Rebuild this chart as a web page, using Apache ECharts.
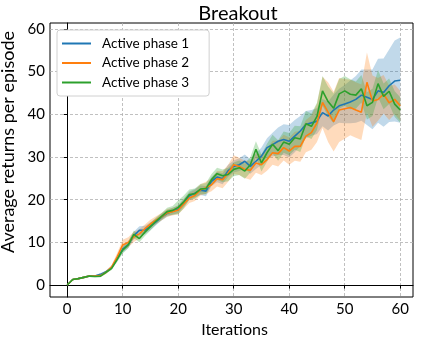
<!DOCTYPE html>
<html>
<head>
<meta charset="utf-8">
<script src="https://cdn.jsdelivr.net/npm/echarts@6/dist/echarts.min.js"></script>
<style>
  html, body { margin: 0; padding: 0; background: #fff; }
  #chart { width: 421px; height: 339px; }
</style>
</head>
<body>
<div id="chart"></div>
<script>
// iterations 0..60
const iterations = Array.from({ length: 61 }, (_, i) => i);
const xTicks = [0, 10, 20, 30, 40, 50, 60];
const yTicks = [0, 10, 20, 30, 40, 50, 60];

// mean returns per active phase
const phase1 = [0, 1.3, 1.5, 1.8, 2.1, 2.1, 2.5, 3.1, 4.1, 6.2,
  8.4, 9.5, 11.6, 12.8, 12.9, 13.8, 14.8, 15.9, 16.8, 17.3,
  17.8, 19.3, 20.9, 21.5, 22.2, 22.0, 24.3, 25.3, 24.9, 26.8,
  27.8, 28.2, 29.0, 27.8, 29.0, 30.2, 32.2, 32.9, 33.7, 34.1,
  33.7, 34.9, 36.1, 37.6, 38.0, 38.4, 40.4, 39.6, 41.0, 42.0,
  42.4, 42.9, 43.5, 44.5, 44.0, 43.5, 45.5, 45.1, 46.7, 47.8, 48.0];
const phase2 = [0, 1.3, 1.5, 1.8, 2.1, 2.1, 2.2, 3.0, 4.2, 6.6,
  9.4, 10.0, 11.3, 12.0, 13.2, 14.3, 15.2, 16.0, 16.9, 17.2,
  17.6, 19.0, 20.4, 21.0, 22.3, 22.8, 23.5, 24.9, 24.7, 26.2,
  28.2, 27.8, 27.1, 26.9, 28.6, 28.2, 29.4, 31.0, 30.8, 32.2,
  31.4, 32.5, 32.5, 34.9, 35.7, 38.0, 42.8, 40.5, 38.3, 41.0,
  41.3, 41.6, 41.0, 40.5, 47.5, 43.1, 43.5, 44.7, 42.7, 43.5, 42.0];
const phase3 = [0, 1.3, 1.5, 1.8, 2.1, 2.0, 2.1, 3.0, 3.9, 6.0,
  8.2, 9.4, 11.9, 10.9, 12.4, 13.7, 15.0, 16.1, 17.2, 17.5,
  18.2, 19.5, 21.2, 21.4, 22.5, 22.6, 24.7, 26.1, 25.6, 25.9,
  27.1, 27.5, 26.7, 28.2, 31.8, 28.6, 31.0, 33.0, 31.5, 33.5,
  33.0, 34.5, 34.2, 37.8, 37.2, 39.5, 45.5, 43.0, 41.4, 44.8,
  45.5, 44.7, 44.5, 46.0, 42.0, 42.8, 47.2, 44.2, 45.4, 42.4, 41.0];

// half-width of the shaded band around each mean
const phase1Spread = [0.1, 0.2, 0.2, 0.2, 0.2, 0.2, 0.3, 0.3, 0.4, 0.6,
  0.8, 0.8, 0.9, 1.0, 1.0, 0.9, 0.8, 0.8, 0.8, 0.8,
  0.9, 0.9, 1.0, 1.0, 1.1, 1.2, 1.1, 1.2, 1.3, 1.4,
  1.4, 1.5, 1.6, 1.7, 1.8, 2.0, 2.2, 2.8, 3.2, 3.6,
  3.8, 3.8, 3.5, 3.2, 3.0, 3.0, 3.2, 3.4, 3.6, 4.0,
  4.5, 5.0, 5.5, 6.0, 6.5, 7.0, 7.5, 8.0, 8.5, 9.5, 10.0];
const phase2Spread = [0.1, 0.2, 0.2, 0.2, 0.2, 0.2, 0.3, 0.4, 0.5, 0.9,
  1.2, 1.2, 1.2, 1.1, 1.0, 1.0, 0.9, 0.9, 0.9, 0.9,
  1.0, 1.1, 1.2, 1.3, 1.3, 1.4, 1.5, 1.8, 2.0, 2.0,
  2.2, 2.0, 2.0, 2.2, 2.3, 2.4, 2.6, 2.8, 3.0, 3.0,
  3.2, 3.4, 3.6, 3.8, 4.0, 4.5, 6.0, 7.0, 7.0, 7.5,
  7.0, 6.5, 6.5, 6.5, 7.0, 6.0, 5.0, 4.5, 4.0, 3.5, 3.5];
const phase3Spread = [0.1, 0.2, 0.2, 0.2, 0.2, 0.2, 0.3, 0.3, 0.4, 0.6,
  0.8, 0.8, 0.9, 0.9, 0.9, 0.9, 0.8, 0.8, 0.9, 1.0,
  1.6, 1.5, 1.2, 1.2, 1.2, 1.3, 1.3, 1.4, 1.5, 1.6,
  1.6, 1.7, 1.8, 1.8, 1.9, 2.0, 2.1, 2.2, 2.4, 2.5,
  2.6, 2.8, 3.0, 3.0, 3.0, 3.2, 3.5, 3.5, 3.5, 3.5,
  3.5, 3.5, 3.2, 3.2, 3.2, 3.2, 3.2, 3.0, 3.0, 3.0, 3.0];

const phaseNames = ['Active phase 1', 'Active phase 2', 'Active phase 3'];
const colors = ['#1f77b4', '#ff7f0e', '#2ca02c'];
const means = [phase1, phase2, phase3];
const spreads = [phase1Spread, phase2Spread, phase3Spread];

const font = 'Lato';

// shaded band drawn as one polygon through the axis scales
function bandSeries(k) {
  return {
    type: 'custom',
    name: 'band' + k,
    silent: true,
    z: 1,
    data: iterations.map(i => [i, means[k][i] - spreads[k][i], means[k][i] + spreads[k][i]]),
    encode: { x: 0, y: [1, 2] },
    renderItem: function (params, api) {
      if (params.dataIndex !== 0) return;
      const n = iterations.length;
      const top = [], bottom = [];
      for (let j = 0; j < n; j++) {
        const x = api.value(0, j);
        top.push(api.coord([x, api.value(2, j)]));
        bottom.push(api.coord([x, api.value(1, j)]));
      }
      return {
        type: 'polygon',
        shape: { points: top.concat(bottom.reverse()) },
        style: { fill: colors[k], opacity: 0.28 }
      };
    }
  };
}

function meanSeries(k) {
  return {
    name: phaseNames[k],
    type: 'line',
    data: iterations.map(i => [i, means[k][i]]),
    showSymbol: false,
    symbol: 'none',
    color: colors[k],
    lineStyle: { width: 1.6, color: colors[k] },
    z: 3 + k
  };
}

const series = [];
for (let k = 0; k < 3; k++) series.push(bandSeries(k));
for (let k = 0; k < 3; k++) series.push(meanSeries(k));

const chart = echarts.init(document.getElementById('chart'));
chart.setOption({
  animation: false,
  backgroundColor: '#fff',
  textStyle: { fontFamily: font },
  title: {
    text: 'Breakout',
    left: 233,
    top: -1,
    textAlign: 'center',
    textStyle: { fontFamily: font, fontSize: 20, fontWeight: 'normal', color: '#000' }
  },
  legend: {
    data: phaseNames,
    orient: 'vertical',
    left: 57,
    top: 30,
    padding: [6, 20, 6, 5],
    itemGap: 4.5,
    itemWidth: 29,
    itemHeight: 2,
    icon: 'rect',
    backgroundColor: '#fff',
    borderColor: '#d0d0d0',
    borderWidth: 1,
    borderRadius: 3,
    textStyle: { fontFamily: font, fontSize: 13.5, color: '#000', lineHeight: 15, padding: [0, 0, 0, 6] }
  },
  grid: {
    show: true,
    left: 50,
    right: 8,
    top: 23,
    bottom: 42,
    containLabel: false,
    outerBoundsMode: 'none',
    borderColor: '#000',
    borderWidth: 1,
    backgroundColor: '#fff'
  },
  xAxis: {
    type: 'value',
    min: -3.1,
    max: 62.3,
    name: 'Iterations',
    nameLocation: 'middle',
    nameGap: 24,
    nameTextStyle: { fontFamily: font, fontSize: 16, color: '#000', padding: [0, 0, 0, 6] },
    axisLine: { show: true, lineStyle: { color: '#000' } },
    axisTick: { show: true, length: 3.5, customValues: xTicks, lineStyle: { color: '#000' } },
    axisLabel: { customValues: xTicks, fontFamily: font, fontSize: 15, color: '#000', margin: 5 },
    splitLine: { show: true, lineStyle: { color: '#b0b0b0', type: [3, 2], width: 0.8 } }
  },
  yAxis: {
    type: 'value',
    min: -2.8,
    max: 61.4,
    name: 'Average returns per episode',
    nameLocation: 'middle',
    nameRotate: 90,
    nameGap: 29,
    nameTextStyle: { fontFamily: font, fontSize: 18, color: '#000', padding: [0, 0, 0, 36] },
    axisLine: { show: true, lineStyle: { color: '#000' } },
    axisTick: { show: true, length: 3.5, customValues: yTicks, lineStyle: { color: '#000' } },
    axisLabel: { customValues: yTicks, fontFamily: font, fontSize: 15, color: '#000', margin: 5 },
    splitLine: { show: true, lineStyle: { color: '#b0b0b0', type: [3, 2], width: 0.8 } }
  },
  series: series
});
</script>
</body>
</html>
